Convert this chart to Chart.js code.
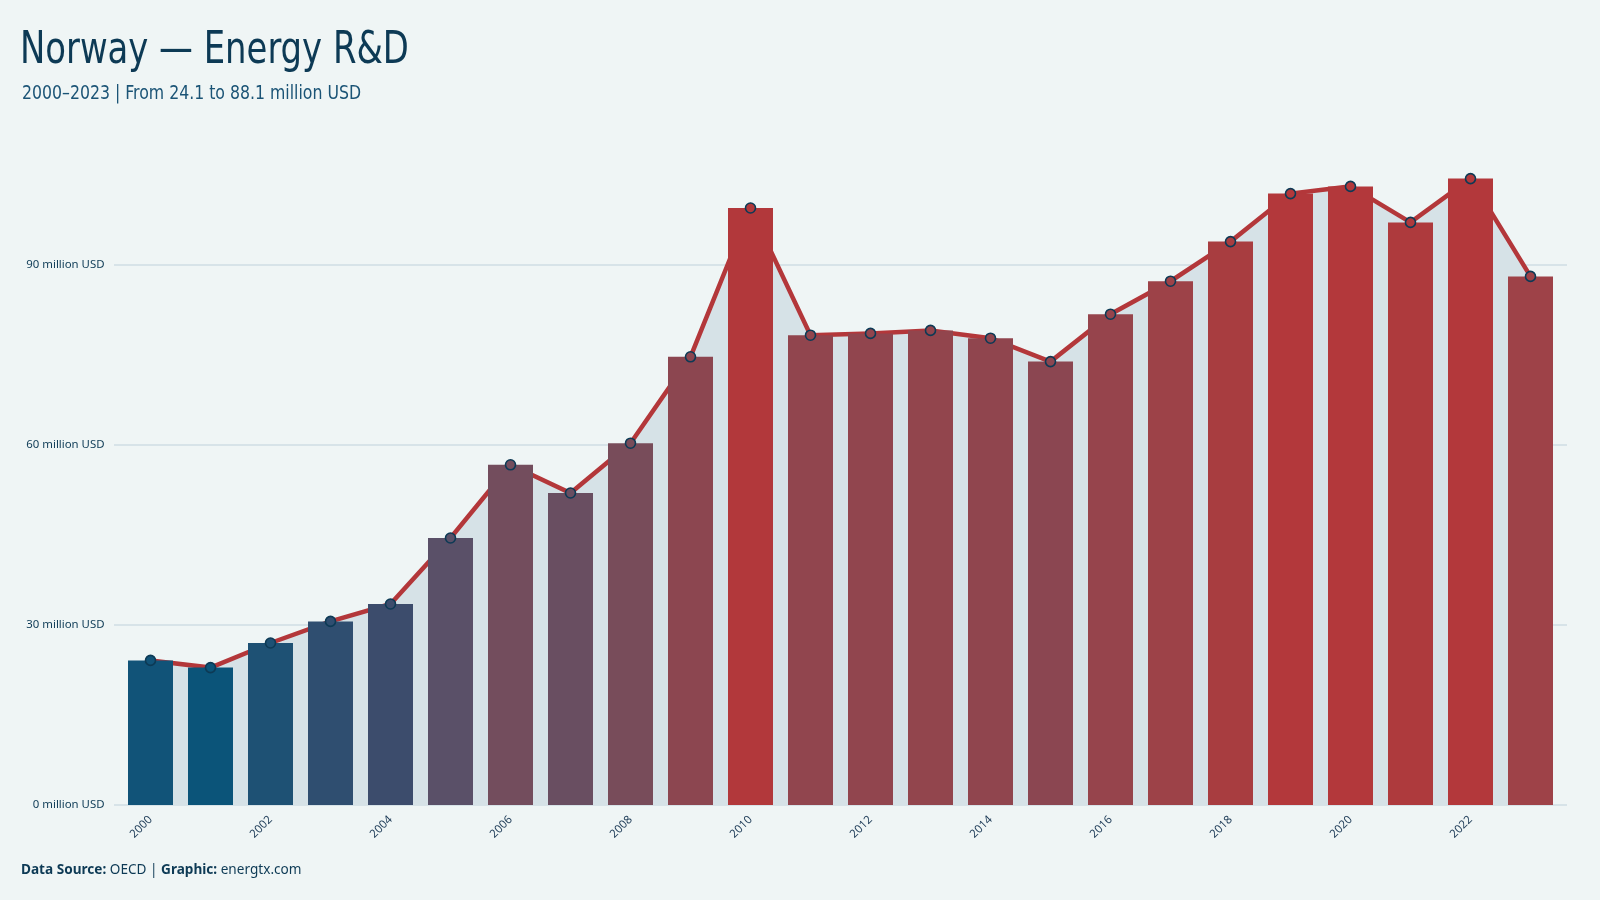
<!DOCTYPE html>
<html>
<head>
<meta charset="utf-8">
<script src="https://cdn.jsdelivr.net/npm/chart.js@4"></script>
<style>
  html, body { margin: 0; padding: 0; background: #eff5f5; }
  #wrap { position: relative; width: 1600px; height: 900px; }
  .cond { font-family: "Ubuntu Condensed", "Liberation Sans Narrow", "DejaVu Sans Condensed", "Noto Sans", sans-serif; transform-origin: 0 0; }
  #title { position: absolute; left: 20px; top: 22px; font-size: 44px; color: #0d3a55; white-space: nowrap; transform: scaleX(0.855); }
  #subtitle { position: absolute; left: 22px; top: 80px; font-size: 20px; color: #1b5476; white-space: nowrap; transform: scaleX(0.875); }
  #footer { position: absolute; left: 21px; top: 859px; font-size: 13.6px; color: #0d3a55; font-family: "Noto Sans", "Open Sans", sans-serif; }
</style>
</head>
<body>
<div id="wrap">
  <canvas id="chart" width="1600" height="900"></canvas>
  <div id="title" class="cond">Norway — Energy R&amp;D</div>
  <div id="subtitle" class="cond">2000–2023 | From 24.1 to 88.1 million USD</div>
  <div id="footer"><b>Data Source:</b> OECD | <b>Graphic:</b> energtx.com</div>
</div>
<script>
const years = ['2000','2001','2002','2003','2004','2005','2006','2007','2008','2009','2010','2011',
               '2012','2013','2014','2015','2016','2017','2018','2019','2020','2021','2022','2023'];
const spending = [24.1, 22.9, 27.0, 30.6, 33.5, 44.5, 56.7, 52.0, 60.3, 74.7, 99.5, 78.3,
                  78.6, 79.1, 77.8, 73.9, 81.8, 87.3, 93.9, 101.9, 103.1, 97.1, 104.4, 88.1];
const yTicks = [0, 30, 60, 90];

// colour ramp: value -> colour (blue for low, red for high)
const rampStops = [
  [22.9, [11, 84, 121]],
  [33.5, [60, 76, 108]],
  [44.5, [90, 80, 104]],
  [56.7, [115, 77, 93]],
  [74.7, [140, 70, 80]],
  [88.0, [158, 66, 72]],
  [94.0, [168, 61, 64]],
  [100.0, [179, 56, 59]]
];

function rampColor(v) {
  if (v <= rampStops[0][0]) return rgb(rampStops[0][1]);
  for (let i = 1; i < rampStops.length; i++) {
    if (v <= rampStops[i][0]) {
      const a = rampStops[i - 1], b = rampStops[i];
      const t = (v - a[0]) / (b[0] - a[0]);
      return rgb(a[1].map((c, k) => c + (b[1][k] - c) * t));
    }
  }
  return rgb(rampStops[rampStops.length - 1][1]);
}
function rgb(c) { return 'rgb(' + c.map(Math.round).join(',') + ')'; }

const barColors = spending.map(rampColor);

// gridlines drawn a little wider than the plot area
const gridPlugin = {
  id: 'wideGrid',
  beforeDatasetsDraw(chart) {
    const { ctx, chartArea, scales } = chart;
    ctx.save();
    ctx.strokeStyle = '#d7e3e8';
    ctx.lineWidth = 2;
    yTicks.forEach(v => {
      const y = Math.round(scales.y.getPixelForValue(v));
      ctx.beginPath();
      ctx.moveTo(chartArea.left - 6.5, y);
      ctx.lineTo(chartArea.right + 6.5, y);
      ctx.stroke();
    });
    ctx.restore();
  }
};

const tickFont = { family: '"Noto Sans", "Open Sans", sans-serif', size: 11.4 };

new Chart(document.getElementById('chart').getContext('2d'), {
  data: {
    labels: years,
    datasets: [
      {
        type: 'line',
        data: spending,
        borderColor: '#b3373a',
        borderWidth: 4.5,
        backgroundColor: '#d6e2e7',
        fill: 'origin',
        tension: 0,
        pointRadius: 0,
        order: 3
      },
      {
        type: 'bar',
        data: spending,
        backgroundColor: barColors,
        barPercentage: 0.75,
        categoryPercentage: 1.0,
        order: 2
      },
      {
        type: 'line',
        data: spending,
        showLine: false,
        pointRadius: 5,
        pointBackgroundColor: barColors,
        pointBorderColor: '#0d3a55',
        pointBorderWidth: 1.6,
        order: 1
      }
    ]
  },
  options: {
    responsive: false,
    animation: false,
    layout: { padding: { top: 145, right: 39.5, bottom: 0, left: 0 } },
    plugins: {
      legend: { display: false },
      tooltip: { enabled: false }
    },
    scales: {
      x: {
        offset: true,
        grid: { display: false, drawTicks: false },
        border: { display: false },
        ticks: {
          autoSkip: false,
          maxRotation: 45,
          minRotation: 45,
          padding: 8,
          color: '#1d3b57',
          font: tickFont,
          callback: function (val, i) { return i % 2 === 0 ? years[i] : ''; }
        },
        afterFit: function (scale) { scale.height = 95; }
      },
      y: {
        min: 0,
        max: 110,
        grid: { display: false, drawTicks: false },
        border: { display: false },
        afterBuildTicks: function (axis) {
          axis.ticks = yTicks.map(v => ({ value: v }));
        },
        ticks: {
          padding: 16,
          color: '#0d3a55',
          font: tickFont,
          callback: function (v) { return v + ' million USD'; }
        },
        afterFit: function (scale) { scale.width = 120.5; }
      }
    }
  },
  plugins: [gridPlugin]
});
</script>
</body>
</html>
